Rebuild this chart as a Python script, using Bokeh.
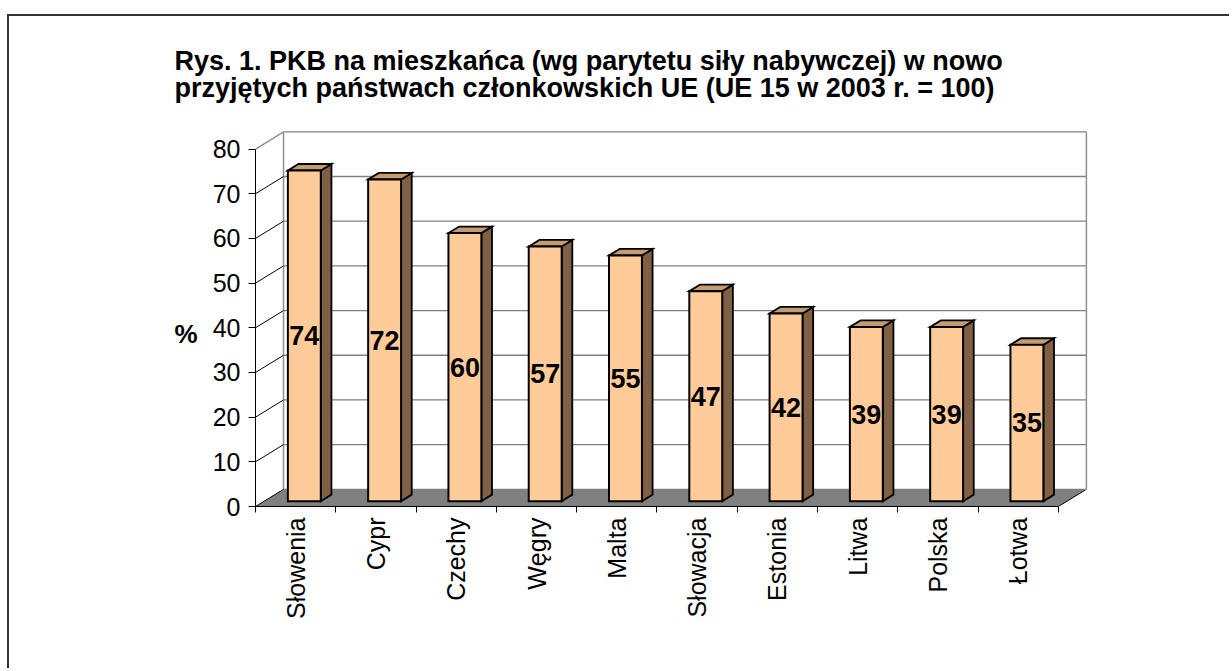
import numpy as np
from bokeh.plotting import figure
from bokeh.models import Range1d, FixedTicker, ColumnDataSource
from bokeh.embed import file_html
from bokeh.resources import INLINE
from bokeh.core.properties import value

# ---------------- data ----------------
countries = ["Słowenia", "Cypr", "Czechy", "Węgry", "Malta",
             "Słowacja", "Estonia", "Litwa", "Polska", "Łotwa"]
values = [74, 72, 60, 57, 55, 47, 42, 39, 39, 35]
yticks = [0, 10, 20, 30, 40, 50, 60, 70, 80]
title1 = "Rys. 1. PKB na mieszkańca (wg parytetu siły nabywczej) w nowo"
title2 = "przyjętych państwach członkowskich UE (UE 15 w 2003 r. = 100)"
y_label = "%"

# ---------------- 3D geometry (in data units) ----------------
N = len(countries)
YMAX = yticks[-1]
DX = 0.349          # depth offset of back wall, x units
DY = 3.85           # depth offset of back wall, y units
BAR_W = 0.41
OFF = 0.31          # bar front plane position (fraction of depth)
DEP = 0.38          # bar depth (fraction of depth)

FONT = "Liberation Sans"

p = figure(width=1222, height=654,
           x_range=Range1d(0, 10.45), y_range=Range1d(0, 84.15),
           output_backend="svg", toolbar_location=None,
           min_border_left=246, min_border_right=137,
           min_border_top=109, min_border_bottom=164,
           margin=(14, 0, 0, 7),
           styles={"border-top": "2px solid #333333",
                   "border-left": "2px solid #333333"})
p.background_fill_color = "white"
p.border_fill_color = "white"
p.outline_line_color = None
p.xgrid.visible = False
p.ygrid.visible = False

# floor
p.patch(x=[0, N, N + DX, DX], y=[0, 0, DY, DY],
        fill_color="#808080", line_color=None)
p.segment(x0=[N], y0=[0], x1=[N + DX], y1=[DY], line_color="black", line_width=1)

# back wall gridlines
gy = [t + DY for t in yticks]
p.segment(x0=[DX] * len(yticks), y0=gy, x1=[N + DX] * len(yticks), y1=gy,
          line_color="#808080", line_width=1.3)
# wall vertical edges
p.segment(x0=[DX, N + DX], y0=[DY, DY], x1=[DX, N + DX], y1=[YMAX + DY, YMAX + DY],
          line_color="#909090", line_width=1.5)
# side wall slanted lines
p.segment(x0=[0] * (len(yticks) - 1), y0=yticks[:-1],
          x1=[DX] * (len(yticks) - 1), y1=[t + DY for t in yticks[:-1]],
          line_color="black", line_width=1)
p.segment(x0=[0], y0=[YMAX], x1=[DX], y1=[YMAX + DY],
          line_color="#909090", line_width=1.5)

# bars
ox, oy = OFF * DX, OFF * DY
ddx, ddy = DEP * DX, DEP * DY
front_xs, front_ys, side_xs, side_ys, top_xs, top_ys = [], [], [], [], [], []
for i, v in enumerate(values):
    xl = i + 0.5 - BAR_W / 2 + ox
    xr = i + 0.5 + BAR_W / 2 + ox
    y0 = oy
    y1 = v + oy
    front_xs.append([xl, xr, xr, xl]); front_ys.append([y0, y0, y1, y1])
    side_xs.append([xr, xr + ddx, xr + ddx, xr]); side_ys.append([y0, y0 + ddy, y1 + ddy, y1])
    top_xs.append([xl, xr, xr + ddx, xl + ddx]); top_ys.append([y1, y1, y1 + ddy, y1 + ddy])

p.patches(xs=side_xs, ys=side_ys, fill_color="#806045", line_color="black",
          line_width=1.8, line_join="miter")
p.patches(xs=top_xs, ys=top_ys, fill_color="#C49C70", line_color="black",
          line_width=1.8, line_join="miter")
p.patches(xs=front_xs, ys=front_ys, fill_color="#FFCC99", line_color="black",
          line_width=2, line_join="miter")

# value labels
lab = ColumnDataSource(dict(
    x=[i + 0.5 + ox for i in range(N)],
    y=[v / 2 + oy for v in values],
    t=[str(v) for v in values]))
p.text(x="x", y="y", text="t", source=lab, text_align="center",
       text_baseline="middle", text_font=value(FONT), text_font_style="bold",
       text_font_size="27px", text_color="black")

# y axis
p.yaxis.ticker = FixedTicker(ticks=yticks)
p.yaxis.bounds = (0, YMAX)
p.yaxis.axis_line_color = "black"
p.yaxis.major_tick_out = 7
p.yaxis.major_tick_in = 0
p.yaxis.minor_tick_line_color = None
p.yaxis.major_label_text_font = FONT
p.yaxis.major_label_text_font_size = "25px"
p.yaxis.major_label_text_color = "black"
p.yaxis.major_label_standoff = 8
p.yaxis.axis_label = "\n" + y_label
p.yaxis.axis_label_orientation = "horizontal"
p.yaxis.axis_label_text_line_height = 1.0
p.yaxis.axis_label_text_font = FONT
p.yaxis.axis_label_text_font_style = "bold"
p.yaxis.axis_label_text_font_size = "26px"
p.yaxis.axis_label_text_color = "black"
p.yaxis.axis_label_standoff = 12

# x axis
centers = [i + 0.5 for i in range(N)]
p.xaxis.ticker = FixedTicker(ticks=centers, minor_ticks=list(range(N + 1)))
p.xaxis.bounds = (0, N)
p.xaxis.major_label_overrides = {c: name for c, name in zip(centers, countries)}
p.xaxis.axis_line_color = "black"
p.xaxis.major_tick_out = 0
p.xaxis.major_tick_in = 0
p.xaxis.minor_tick_out = 6
p.xaxis.minor_tick_in = 0
p.xaxis.minor_tick_line_color = "black"
p.xaxis.major_label_orientation = np.pi / 2
p.xaxis.major_label_text_font = FONT
p.xaxis.major_label_text_font_size = "25px"
p.xaxis.major_label_text_color = "black"
p.xaxis.major_label_standoff = 5

# title (two lines)
p.title.text = title1 + "\n" + title2
p.title.align = "left"
p.title.offset = -81
p.title.standoff = 55
p.title.text_line_height = 0.9
p.title.text_font = FONT
p.title.text_font_style = "bold"
p.title.text_font_size = "27px"
p.title.text_color = "black"

open("out.html", "w").write(file_html(p, INLINE))
